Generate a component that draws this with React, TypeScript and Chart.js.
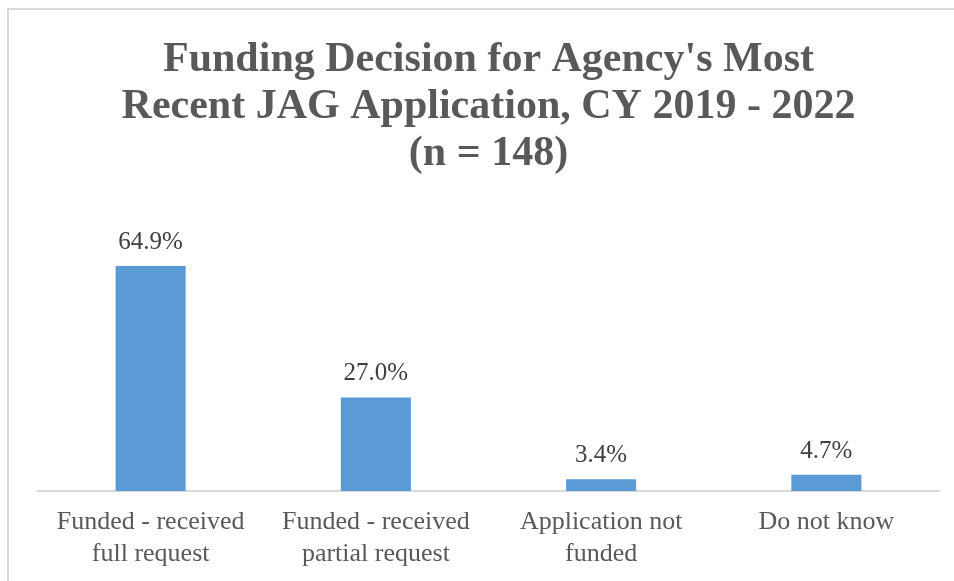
import React, { useEffect, useRef } from "react";
import { Chart, registerables } from "chart.js";

Chart.register(...registerables);

const categories: string[][] = [
  ["Funded - received", "full request"],
  ["Funded - received", "partial request"],
  ["Application not", "funded"],
  ["Do not know"],
];
const values: number[] = [64.9, 27.0, 3.4, 4.7];
const titleLines: string[] = [
  "Funding Decision for Agency's Most",
  "Recent JAG Application, CY 2019 - 2022",
  "(n = 148)",
];

const FONT = "'Liberation Serif', 'Times New Roman', serif";

const borderPlugin = {
  id: "frameBorder",
  beforeDraw(chart: any) {
    const ctx = chart.ctx;
    ctx.save();
    ctx.fillStyle = "#ffffff";
    ctx.fillRect(0, 0, chart.width, chart.height);
    ctx.strokeStyle = "#d9d9d9";
    ctx.lineWidth = 2;
    ctx.beginPath();
    ctx.moveTo(8, chart.height + 2);
    ctx.lineTo(8, 9);
    ctx.lineTo(chart.width + 2, 9);
    ctx.stroke();
    ctx.restore();
  },
};

const labelPlugin = {
  id: "valueLabels",
  afterDatasetsDraw(chart: any) {
    const ctx = chart.ctx;
    const meta = chart.getDatasetMeta(0);
    ctx.save();
    ctx.font = `25px ${FONT}`;
    ctx.fillStyle = "#404040";
    ctx.textAlign = "center";
    ctx.textBaseline = "alphabetic";
    meta.data.forEach((bar: any, i: number) => {
      const v = chart.data.datasets[0].data[i] as number;
      ctx.fillText(v.toFixed(1) + "%", bar.x, bar.y - 17);
    });
    ctx.restore();
  },
};

export default function App() {
  const ref = useRef<HTMLCanvasElement | null>(null);
  useEffect(() => {
    document.body.style.margin = "0";
    const canvas = ref.current!;
    const chart = new Chart(canvas, {
      type: "bar",
      data: {
        labels: categories,
        datasets: [
          {
            data: values,
            backgroundColor: "#5b9bd5",
            borderWidth: 0,
            categoryPercentage: 1,
            barPercentage: 0.311,
          },
        ],
      },
      options: {
        responsive: false,
        animation: false,
        devicePixelRatio: 1,
        layout: { padding: { left: 38, right: 15, top: 0, bottom: 0 } },
        plugins: {
          legend: { display: false },
          tooltip: { enabled: false },
          title: {
            display: true,
            text: titleLines,
            color: "#595959",
            font: { family: FONT, size: 42, weight: "bold", lineHeight: 1.13 },
            padding: { top: 36, bottom: 70 },
          },
        },
        scales: {
          y: {
            display: false,
            min: 0,
            max: 70,
          },
          x: {
            grid: { display: false, drawTicks: false },
            border: { display: true, color: "#d9d9d9", width: 2 },
            ticks: {
              color: "#595959",
              font: { family: FONT, size: 26, lineHeight: 1.2 },
              padding: 16,
              maxRotation: 0,
              autoSkip: false,
            },
            afterFit: (scale: any) => {
              scale.height = 90;
            },
          },
        },
      },
      plugins: [borderPlugin, labelPlugin],
    });
    return () => chart.destroy();
  }, []);
  return <canvas ref={ref} width={954} height={581} style={{ display: "block" }} />;
}
